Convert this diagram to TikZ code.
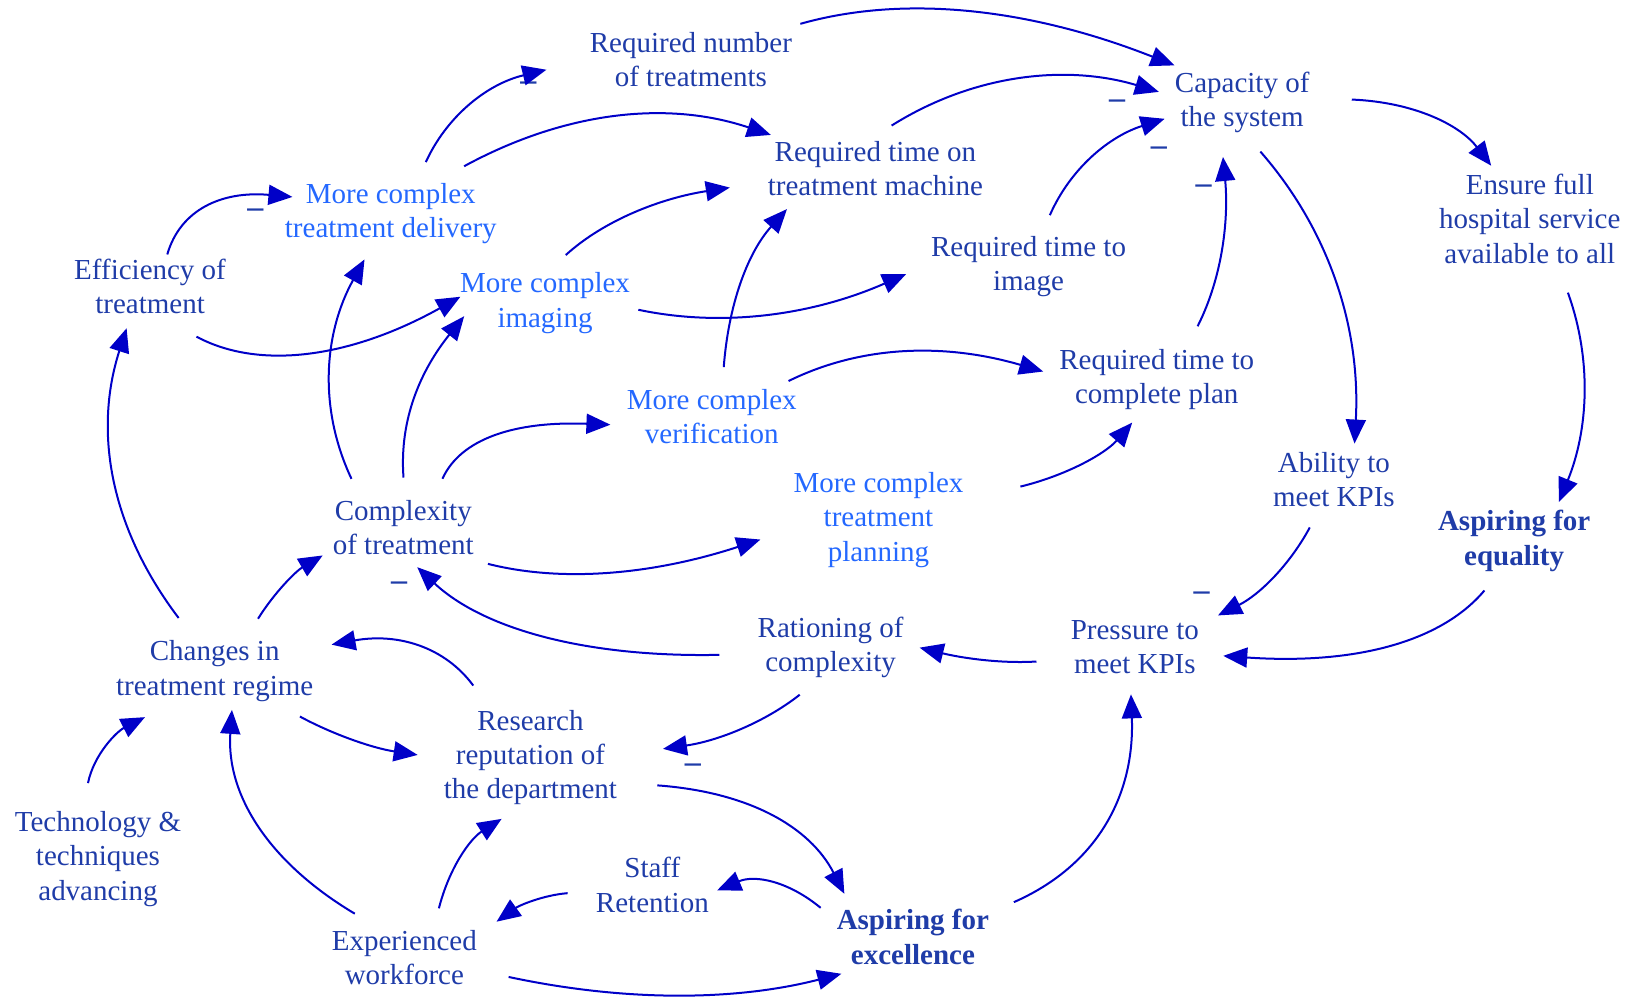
\documentclass[tikz,border=0pt]{standalone}
\usepackage{fontspec}
\setmainfont{Liberation Serif}
\usetikzlibrary{arrows.meta}
\definecolor{dk}{HTML}{1F3CA8}
\definecolor{lt}{HTML}{2468FF}
\definecolor{ar}{HTML}{0000C8}
\tikzset{
  v/.style={align=center,text=dk,font=\fontsize{14.5}{17.2}\selectfont,inner sep=4pt},
  vl/.style={v,text=lt},
  vb/.style={v,font=\fontsize{14.5}{17.2}\selectfont\bfseries},
  lnk/.style={draw=ar,line width=1pt,-{Triangle[length=12pt,width=10pt]}},
  neg/.style={text=dk,font=\fontsize{16}{16}\selectfont\bfseries,inner sep=0pt}
}
\newcommand{\lk}[8]{\draw[lnk,shorten <=#3pt,shorten >=#7pt] (#1.#2) .. controls #4 and #5 .. (#6.#8);}
\begin{document}
\begin{tikzpicture}[x=0.5211pt,y=-0.5211pt]
\useasboundingbox (0,0) rectangle (1568,957);
% nodes
\node[v]  (rn)  at (663,57)  {Required number\\of treatments};
\node[v]  (cap) at (1192,98) {Capacity of\\the system};
\node[v]  (rtm) at (840,162) {Required time on\\treatment machine};
\node[vl] (mtd) at (375,205) {More complex\\treatment delivery};
\node[v]  (eff) at (144,275) {Efficiency of\\treatment};
\node[vl] (mci) at (523,291) {More complex\\imaging};
\node[v]  (rti) at (987,256) {Required time to\\image};
\node[v]  (efh) at (1468,210) {Ensure full\\hospital service\\available to all};
\node[v]  (rcp) at (1110,364) {Required time to\\complete plan};
\node[vl] (mcv) at (683,400) {More complex\\verification};
\node[v]  (abl) at (1280,460) {Ability to\\meet KPIs};
\node[vb] (aeq) at (1453,519) {Aspiring for\\equality};
\node[v]  (cot) at (387,506) {Complexity\\of treatment};
\node[vl] (mtp) at (843,499) {More complex\\treatment\\planning};
\node[v]  (cit) at (206,644) {Changes in\\treatment regime};
\node[v]  (rat) at (797,621) {Rationing of\\complexity};
\node[v]  (pre) at (1089,621) {Pressure to\\meet KPIs};
\node[v]  (res) at (509,727) {Research\\reputation of\\the department};
\node[v]  (tec) at (94,824)  {Technology \&\\techniques\\advancing};
\node[v]  (stf) at (626,849) {Staff\\Retention};
\node[vb] (aex) at (876,899) {Aspiring for\\excellence};
\node[v]  (exp) at (388,919) {Experienced\\workforce};
% minus signs
\node[neg] (m1) at (507,83)  {–};
\node[neg] (m2) at (245,205) {–};
\node[neg] (m3) at (1072,100) {–};
\node[neg] (m4) at (1112,145) {–};
\node[neg] (m5) at (1155,182) {–};
\node[neg] (m6) at (1153,572) {–};
\node[neg] (m7) at (383,563) {–};
\node[neg] (m8) at (665,737) {–};
% links: from, angle, shorten<, c1, c2, to, shorten>, angle
\lk{mtd}{53}{7}{(428,113)}{(466,81)}{rn}{18}{181}
\lk{mtd}{34}{9}{(542,107)}{(640,96)}{rtm}{-3}{162}
\lk{eff}{63}{-2}{(173,201)}{(213,183)}{mtd}{-8}{171}
\lk{mci}{75}{7}{(580,211)}{(635,190)}{rtm}{15}{187}
\lk{eff}{-61}{15}{(252,357)}{(341,341)}{mci}{-5}{179}
\lk{mci}{-4}{0}{(697,315)}{(783,301)}{rti}{9}{180}
\lk{mcv}{73}{7}{(699,293)}{(717,243)}{rtm}{3}{203}
\lk{cot}{142}{7}{(305,391)}{(311,319)}{mtd}{4}{-120}
\lk{cot}{88}{7}{(383,402)}{(404,355)}{mci}{-10}{197}
\lk{cot}{47}{7}{(442,421)}{(494,404)}{mcv}{4}{185}
\lk{cot}{-24}{3}{(543,560)}{(631,550)}{mtp}{13}{187}
\lk{mcv}{25}{0}{(827,331)}{(907,329)}{rcp}{4}{177}
\lk{mtp}{13}{25}{(1024,456)}{(1061,435)}{rcp}{3}{-118}
\lk{rtm}{83}{7}{(936,70)}{(1025,62)}{cap}{4}{174}
\lk{rn}{18}{0}{(870,-6)}{(991,9)}{cap}{-3}{152}
\lk{rti}{68}{7}{(1027,162)}{(1064,131)}{cap}{1}{192}
\lk{rcp}{49}{8}{(1174,264)}{(1179,208)}{cap}{8}{-118}
\lk{cap}{3}{17}{(1357,98)}{(1401,120)}{efh}{0}{126}
\lk{cap}{-77}{7}{(1273,218)}{(1306,311)}{abl}{0}{60}
\lk{efh}{-60}{11}{(1528,346)}{(1524,413)}{aeq}{0}{41}
\lk{abl}{-116}{7}{(1237,543)}{(1208,571)}{pre}{6}{20}
\lk{aeq}{-118}{7}{(1382,617)}{(1298,638)}{pre}{8}{-6}
\lk{pre}{190}{13}{(959,637)}{(921,631)}{rat}{4}{1}
\lk{rat}{185}{15}{(561,631)}{(463,603)}{cot}{3}{-75}
\lk{rat}{-117}{7}{(734,693)}{(689,711)}{res}{19}{2}
\lk{res}{129}{10}{(427,621)}{(382,607)}{cit}{5}{13}
\lk{cit}{48}{8}{(263,569)}{(284,548)}{cot}{1}{199}
\lk{cit}{123}{9}{(107,508)}{(89,416)}{eff}{3}{-121}
\lk{cit}{-28}{7}{(320,705)}{(358,718)}{res}{9}{180}
\lk{tec}{104}{10}{(90,724)}{(112,702)}{cit}{8}{215}
\lk{exp}{135}{8}{(257,827)}{(217,762)}{cit}{0}{-66}
\lk{exp}{49}{7}{(431,833)}{(451,805)}{res}{5}{-110}
\lk{stf}{186}{10}{(521,859)}{(498,869)}{exp}{7}{19}
\lk{aex}{165}{5}{(757,846)}{(725,839)}{stf}{0}{-5}
\lk{exp}{-10}{12}{(598,961)}{(704,961)}{aex}{2}{208}
\lk{res}{-15}{16}{(718,760)}{(777,793)}{aex}{4}{151}
\lk{aex}{18}{9}{(1052,831)}{(1089,764)}{pre}{6}{-97}
\end{tikzpicture}
\end{document}
